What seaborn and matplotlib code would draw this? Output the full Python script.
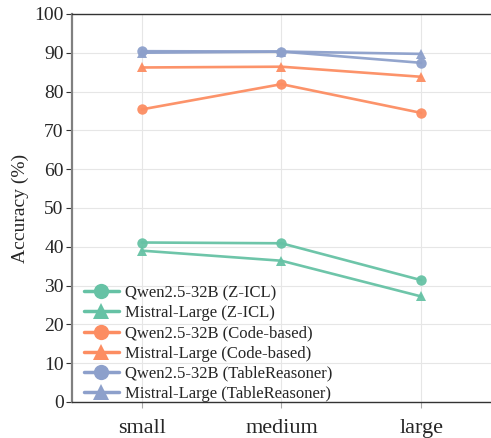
import matplotlib
matplotlib.use("Agg")
import matplotlib.pyplot as plt
import seaborn as sns
import pandas as pd
from matplotlib.lines import Line2D

sizes = ["small", "medium", "large"]
qwen_zicl = [41.1, 40.9, 31.4]
mistral_zicl = [39.0, 36.4, 27.2]
qwen_code = [75.4, 81.9, 74.5]
mistral_code = [86.2, 86.4, 83.8]
qwen_tr = [90.4, 90.3, 87.4]
mistral_tr = [90.0, 90.3, 89.7]

series = [
    ("Qwen2.5-32B (Z-ICL)", qwen_zicl),
    ("Mistral-Large (Z-ICL)", mistral_zicl),
    ("Qwen2.5-32B (Code-based)", qwen_code),
    ("Mistral-Large (Code-based)", mistral_code),
    ("Qwen2.5-32B (TableReasoner)", qwen_tr),
    ("Mistral-Large (TableReasoner)", mistral_tr),
]

rows = []
for name, vals in series:
    for s, v in zip(sizes, vals):
        rows.append({"size": s, "acc": v, "series": name})
df = pd.DataFrame(rows)
df["x"] = df["size"].map({s: i for i, s in enumerate(sizes)})

sns.set_theme(style="whitegrid")
plt.rcParams["font.family"] = ["Liberation Serif", "DejaVu Serif"]

pal = sns.color_palette("Set2", 3)
colors = {}
markers = {}
for i, (name, _) in enumerate(series):
    colors[name] = pal[i // 2]
    markers[name] = "o" if i % 2 == 0 else "^"

fig = plt.figure(figsize=(4.91, 4.38), dpi=100)
ax = fig.add_axes([0.1466, 0.0822, 0.8534, 0.886])
ax.set_facecolor("white")

sns.lineplot(data=df, x="x", y="acc", hue="series", style="series",
             palette=colors, markers=markers, dashes=False,
             linewidth=1.9, markersize=7.5, markeredgewidth=0, alpha=0.95,
             ax=ax, legend=False)

ax.set_xlim(-0.5, 2.5)
ax.set_ylim(0, 100)
ax.set_xticks(range(len(sizes)))
ax.set_xticklabels(sizes, fontsize=16)
ax.set_yticks(range(0, 101, 10))
ax.tick_params(axis="y", labelsize=14, length=4, width=0.8, color="#333333", left=True, pad=2)
ax.tick_params(axis="x", length=4, width=0.8, color="#aaaaaa", bottom=True, pad=8)
ax.set_xlabel("")
ax.set_ylabel("Accuracy (%)", fontsize=14, labelpad=4)

ax.grid(True, color="#e6e6e6", linewidth=0.8)
for side in ["left", "bottom", "top"]:
    ax.spines[side].set_visible(True)
ax.spines["left"].set_color("#808080")
ax.spines["left"].set_linewidth(1.6)
ax.spines["bottom"].set_color("#333333")
ax.spines["bottom"].set_linewidth(1.0)
ax.spines["top"].set_color("#333333")
ax.spines["top"].set_linewidth(1.0)
ax.spines["right"].set_visible(False)

handles = [Line2D([0], [0], color=colors[n], marker=markers[n], linewidth=2.5,
                  markersize=11, markeredgewidth=0) for n, _ in series]
ax.legend(handles, [n for n, _ in series], loc="lower left", frameon=False,
          fontsize=12, handlelength=2.1, labelspacing=0.25,
          borderaxespad=0.3, handletextpad=0.4, bbox_to_anchor=(0.0, -0.03))

fig.savefig("out.png", dpi=100)
